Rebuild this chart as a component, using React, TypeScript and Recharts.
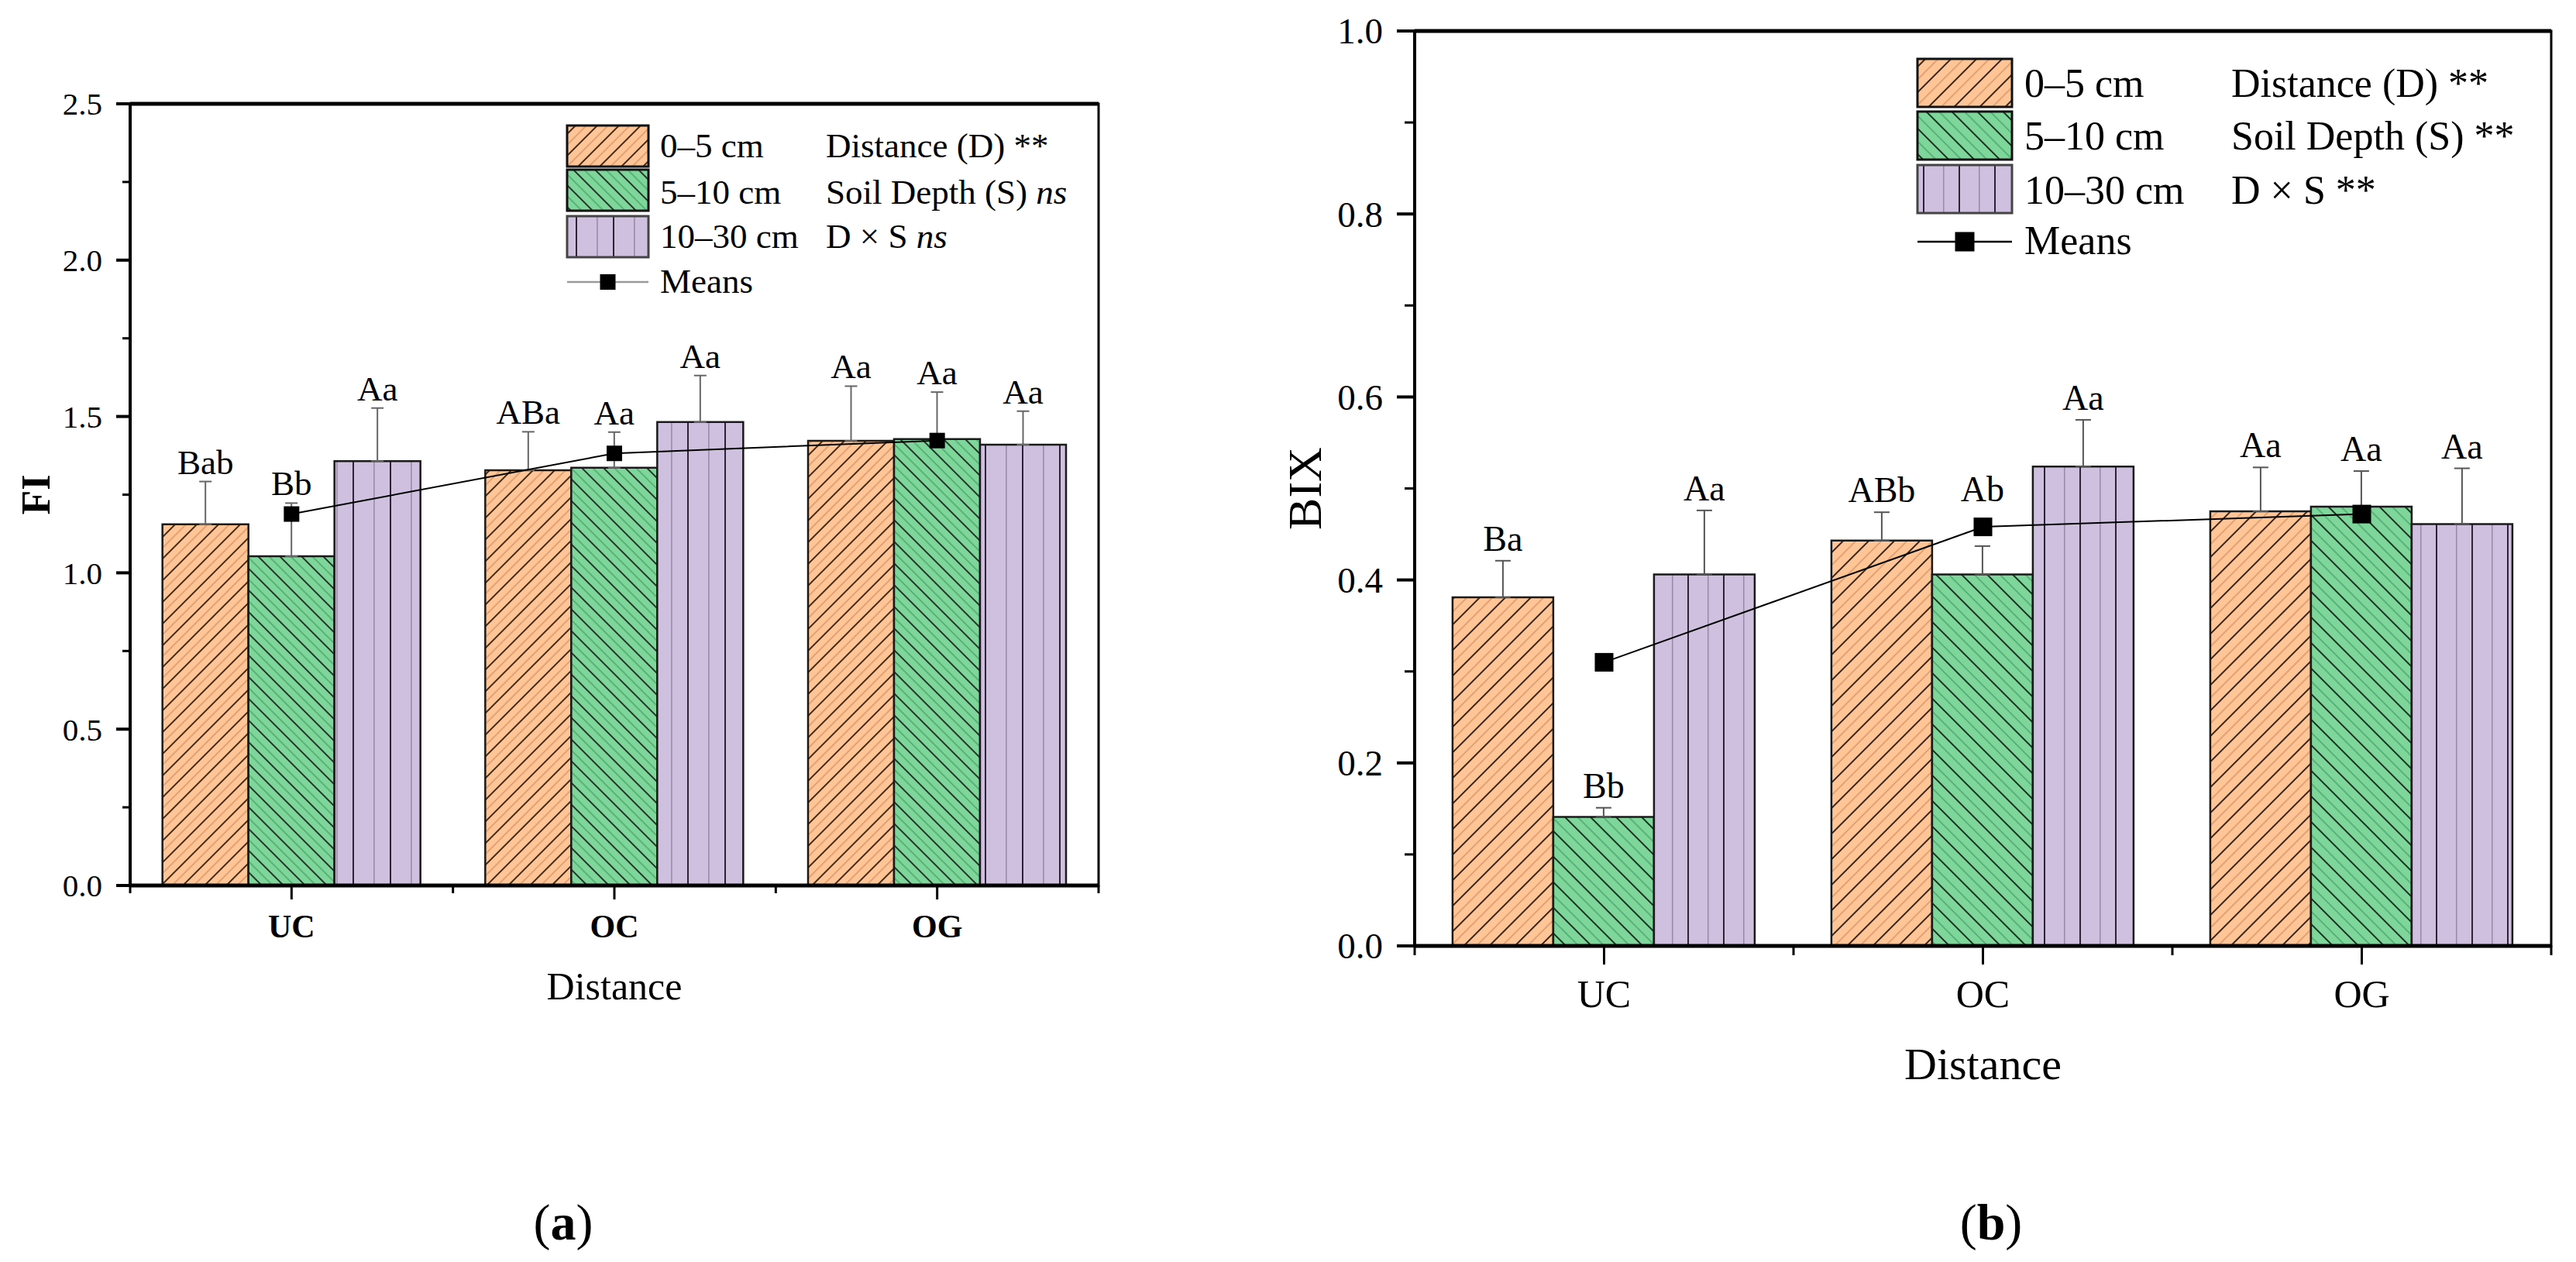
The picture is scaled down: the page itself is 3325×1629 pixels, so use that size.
import React from 'react';
import { ComposedChart, Bar, Line, XAxis, YAxis, ErrorBar, Legend, ReferenceArea, ReferenceLine } from 'recharts';

const FONT = '"Liberation Serif", "Times New Roman", "DejaVu Serif", serif';

// ---------- data ----------
const categories = ['UC', 'OC', 'OG'];
const depthNames = ['0–5 cm', '5–10 cm', '10–30 cm'];
const meansName = 'Means';
const statLabels = ['Distance (D) ', 'Soil Depth (S) ', 'D × S '];

// Panel (a): FI
const fi0to5 = [1.155, 1.328, 1.422];
const fi5to10 = [1.053, 1.336, 1.428];
const fi10to30 = [1.357, 1.482, 1.41];
const fiErr0to5 = [0.137, 0.123, 0.175];
const fiErr5to10 = [0.17, 0.114, 0.15];
const fiErr10to30 = [0.17, 0.149, 0.107];
const fiMeans = [1.188, 1.382, 1.423];
const fiLetters0to5 = ['Bab', 'ABa', 'Aa'];
const fiLetters5to10 = ['Bb', 'Aa', 'Aa'];
const fiLetters10to30 = ['Aa', 'Aa', 'Aa'];
const fiTicks = [0, 0.25, 0.5, 0.75, 1, 1.25, 1.5, 1.75, 2, 2.25, 2.5];
const fiStatSig = ['**', 'ns', 'ns'];

// Panel (b): BIX
const bix0to5 = [0.381, 0.443, 0.475];
const bix5to10 = [0.141, 0.406, 0.48];
const bix10to30 = [0.406, 0.524, 0.461];
const bixErr0to5 = [0.04, 0.031, 0.048];
const bixErr5to10 = [0.01, 0.031, 0.039];
const bixErr10to30 = [0.07, 0.051, 0.061];
const bixMeans = [0.31, 0.458, 0.472];
const bixLetters0to5 = ['Ba', 'ABb', 'Aa'];
const bixLetters5to10 = ['Bb', 'Ab', 'Aa'];
const bixLetters10to30 = ['Aa', 'Aa', 'Aa'];
const bixTicks = [0, 0.1, 0.2, 0.3, 0.4, 0.5, 0.6, 0.7, 0.8, 0.9, 1.0];
const bixStatSig = ['**', '**', '**'];

function buildRows(v0: number[], v1: number[], v2: number[], e0: number[], e1: number[], e2: number[], m: number[]) {
  return categories.map((cat, i) => ({
    cat,
    d0: v0[i],
    d1: v1[i],
    d2: v2[i],
    e0: [0, e0[i]],
    e1: [0, e1[i]],
    e2: [0, e2[i]],
    mean: m[i],
  }));
}

const ORANGE = '#FFC596';
const GREEN = '#7ED69A';
const PURPLE = '#D0C0E0';

// ---------- patterns ----------
function Hatch({ id, fill, dark, light, spacing, angle }: any) {
  const p = spacing / Math.SQRT2;
  return (
    <pattern id={id} patternUnits="userSpaceOnUse" width={p} height={p} patternTransform={`rotate(${angle})`}>
      <rect x={0} y={0} width={p} height={p} fill={fill} />
      <line x1={p * 0.25} y1={-1} x2={p * 0.25} y2={p + 1} stroke={dark} strokeWidth={1.7} />
      <line x1={p * 0.75} y1={-1} x2={p * 0.75} y2={p + 1} stroke={light} strokeWidth={1.2} />
    </pattern>
  );
}
function VLines({ id, period }: any) {
  return (
    <pattern id={id} patternUnits="userSpaceOnUse" width={period} height={20}>
      <rect x={0} y={0} width={period} height={20} fill={PURPLE} />
      <line x1={period * 0.5} y1={-1} x2={period * 0.5} y2={21} stroke="#2e2236" strokeWidth={2} />
      <line x1={period * 0.06} y1={-1} x2={period * 0.06} y2={21} stroke="#9a8ca8" strokeWidth={1.6} />
    </pattern>
  );
}

// ---------- configs ----------
const cfgA = {
  key: 'a',
  left: 0,
  width: 1500,
  height: 1629,
  margin: { top: 134, right: 82, left: 0, bottom: 366 },
  yAxisWidth: 168,
  xAxisHeight: 120,
  plot: { left: 168, right: 1418, top: 134, bottom: 1143 },
  rows: buildRows(fi0to5, fi5to10, fi10to30, fiErr0to5, fiErr5to10, fiErr10to30, fiMeans),
  errs: [fiErr0to5, fiErr5to10, fiErr10to30],
  letters: [fiLetters0to5, fiLetters5to10, fiLetters10to30],
  means: fiMeans,
  domain: [0, 2.5],
  ticks: fiTicks,
  majorStep: 0.5,
  pats: ['pa-o', 'pa-g', 'pa-p'],
  tickFont: 41,
  yLabelGap: 36,
  yMajor: 18,
  yMinor: 10,
  xTickFont: 42,
  xTickBold: true,
  xLabelOffset: 67,
  xMajor: 18,
  xMinor: 10,
  errCap: 8,
  errColor: '#666',
  labelFont: 45,
  labelGap: 10,
  markerSize: 20,
  yTitle: 'FI',
  yTitleX: 46,
  yTitleFont: 52,
  yTitleBold: true,
  xTitleBaseline: 1290,
  xTitleFont: 50,
  statSig: fiStatSig,
  legend: {
    left: 720, top: 150, w: 720, h: 250,
    swX: 12, swW: 105, rowsY: [12, 69, 129], swH: 53,
    textX: 132, baselines: [53, 113, 170, 228],
    meanY: 214, sq: 20, statX: 346, font: 45, meanColor: '#9a9a9a',
  },
};

const cfgB = {
  key: 'b',
  left: 1650,
  width: 1675,
  height: 1629,
  margin: { top: 40, right: 32, left: 0, bottom: 288 },
  yAxisWidth: 176,
  xAxisHeight: 120,
  plot: { left: 176, right: 1643, top: 40, bottom: 1221 },
  rows: buildRows(bix0to5, bix5to10, bix10to30, bixErr0to5, bixErr5to10, bixErr10to30, bixMeans),
  errs: [bixErr0to5, bixErr5to10, bixErr10to30],
  letters: [bixLetters0to5, bixLetters5to10, bixLetters10to30],
  means: bixMeans,
  domain: [0, 1],
  ticks: bixTicks,
  majorStep: 0.2,
  pats: ['pb-o', 'pb-g', 'pb-p'],
  tickFont: 47,
  yLabelGap: 41,
  yMajor: 23,
  yMinor: 13,
  xTickFont: 50,
  xTickBold: false,
  xLabelOffset: 79,
  xMajor: 24,
  xMinor: 12,
  errCap: 10,
  errColor: '#555',
  labelFont: 46,
  labelGap: 13,
  markerSize: 24,
  yTitle: 'BIX',
  yTitleX: 34,
  yTitleFont: 62,
  yTitleBold: false,
  xTitleBaseline: 1393,
  xTitleFont: 58,
  statSig: bixStatSig,
  legend: {
    left: 810, top: 60, w: 840, h: 300,
    swX: 15, swW: 122, rowsY: [16, 84, 153], swH: 62,
    textX: 153, baselines: [65, 133, 203, 268],
    meanY: 252, sq: 25, statX: 420, font: 52, meanColor: '#000',
  },
};

// ---------- renderers ----------
function isMajor(v: number, step: number) {
  const r = v / step;
  return Math.abs(r - Math.round(r)) < 1e-6;
}

function YTick(props: any) {
  const { x, y, payload, cfg } = props;
  const v = Number(payload.value);
  const major = isMajor(v, cfg.majorStep);
  const len = major ? cfg.yMajor : cfg.yMinor;
  return (
    <g>
      <line x1={x - len} y1={y} x2={x} y2={y} stroke="#000" strokeWidth={major ? 4 : 3} />
      {major && (
        <text x={x - cfg.yLabelGap} y={y} dy="0.35em" textAnchor="end" fontSize={cfg.tickFont} fontFamily={FONT} fill="#000">
          {v.toFixed(1)}
        </text>
      )}
    </g>
  );
}

function XTick(props: any) {
  const { x, y, payload, index, visibleTicksCount, width, cfg } = props;
  let half = payload && payload.offset > 0 ? payload.offset : 0;
  if (!half && width && visibleTicksCount) half = width / visibleTicksCount / 2;
  return (
    <g>
      <line x1={x} y1={y} x2={x} y2={y + cfg.xMajor} stroke="#000" strokeWidth={3} />
      {half > 0 && <line x1={x - half} y1={y} x2={x - half} y2={y + cfg.xMinor} stroke="#000" strokeWidth={3} />}
      {half > 0 && index === visibleTicksCount - 1 && (
        <line x1={x + half} y1={y} x2={x + half} y2={y + cfg.xMinor} stroke="#000" strokeWidth={3} />
      )}
      <text
        x={x}
        y={y + cfg.xLabelOffset}
        textAnchor="middle"
        fontSize={cfg.xTickFont}
        fontWeight={cfg.xTickBold ? 'bold' : 'normal'}
        fontFamily={FONT}
        fill="#000"
      >
        {payload.value}
      </text>
    </g>
  );
}

function makeLabel(cfg: any, s: number) {
  return (props: any) => {
    const vb = props.viewBox || {};
    const bx = props.x ?? vb.x;
    const by = props.y ?? vb.y;
    const bw = props.width ?? vb.width;
    const bh = props.height ?? vb.height;
    const idx = props.index;
    const value = Number(props.value);
    if (bx == null || !value) return null;
    const ppu = bh / value;
    const bottom = by + bh;
    const errTop = by - cfg.errs[s][idx] * ppu;
    let base = errTop - cfg.labelGap;
    if (s === 1) {
      const meanY = bottom - cfg.means[idx] * ppu;
      const halfM = cfg.markerSize / 2;
      const labelTop = base - cfg.labelFont * 0.7;
      if (meanY + halfM > labelTop && meanY - halfM < base) {
        base = meanY - halfM - cfg.labelGap * 1.6;
      }
    }
    return (
      <text x={bx + bw / 2} y={base} textAnchor="middle" fontSize={cfg.labelFont} fontFamily={FONT} fill="#000">
        {cfg.letters[s][idx]}
      </text>
    );
  };
}

function LegendBox({ cfg }: any) {
  const L = cfg.legend;
  return (
    <svg width={L.w} height={L.h} style={{ overflow: 'visible', display: 'block' }}>
      {depthNames.map((name, i) => (
        <g key={name}>
          <rect
            x={L.swX}
            y={L.rowsY[i]}
            width={L.swW}
            height={L.swH}
            fill={`url(#${cfg.pats[i]})`}
            stroke={i === 2 ? '#444' : '#111'}
            strokeWidth={3}
          />
          <text x={L.textX} y={L.baselines[i]} fontSize={L.font} fontFamily={FONT} fill="#000">
            {name}
          </text>
          <text x={L.statX} y={L.baselines[i]} fontSize={L.font} fontFamily={FONT} fill="#000">
            {statLabels[i]}
            <tspan fontStyle={cfg.statSig[i] === 'ns' ? 'italic' : 'normal'}>{cfg.statSig[i]}</tspan>
          </text>
        </g>
      ))}
      <line x1={L.swX} y1={L.meanY} x2={L.swX + L.swW} y2={L.meanY} stroke={L.meanColor} strokeWidth={2.5} />
      <rect
        x={L.swX + L.swW / 2 - L.sq / 2}
        y={L.meanY - L.sq / 2}
        width={L.sq}
        height={L.sq}
        fill="#000"
      />
      <text x={L.textX} y={L.baselines[3]} fontSize={L.font} fontFamily={FONT} fill="#000">
        {meansName}
      </text>
    </svg>
  );
}

function Panel({ cfg }: any) {
  const P = cfg.plot;
  const L = cfg.legend;
  const dataKeys = ['d0', 'd1', 'd2'];
  const errKeys = ['e0', 'e1', 'e2'];
  const yMax = cfg.domain[1];
  return (
    <div style={{ position: 'absolute', left: cfg.left, top: 0, width: cfg.width, height: cfg.height }}>
      <ComposedChart
        width={cfg.width}
        height={cfg.height}
        data={cfg.rows}
        margin={cfg.margin}
        barCategoryGap="10%"
        barGap={0}
      >
        <XAxis
          xAxisId="cat"
          dataKey="cat"
          type="category"
          height={cfg.xAxisHeight}
          tickSize={0}
          tickMargin={0}
          tickLine={false}
          interval={0}
          axisLine={{ stroke: '#000', strokeWidth: 5 }}
          tick={(p: any) => <XTick {...p} cfg={cfg} />}
          label={() => (
            <text
              x={(P.left + P.right) / 2}
              y={cfg.xTitleBaseline}
              textAnchor="middle"
              fontSize={cfg.xTitleFont}
              fontFamily={FONT}
              fill="#000"
            >
              Distance
            </text>
          )}
        />
        <YAxis
          yAxisId="val"
          type="number"
          domain={cfg.domain}
          ticks={cfg.ticks}
          interval={0}
          allowDataOverflow
          width={cfg.yAxisWidth}
          tickSize={0}
          tickMargin={0}
          tickLine={false}
          axisLine={{ stroke: '#000', strokeWidth: 4 }}
          tick={(p: any) => <YTick {...p} cfg={cfg} />}
          label={() => (
            <text
              x={cfg.yTitleX}
              y={(P.top + P.bottom) / 2}
              textAnchor="middle"
              dominantBaseline="central"
              transform={`rotate(-90 ${cfg.yTitleX} ${(P.top + P.bottom) / 2})`}
              fontSize={cfg.yTitleFont}
              fontWeight={cfg.yTitleBold ? 'bold' : 'normal'}
              fontFamily={FONT}
              fill="#000"
            >
              {cfg.yTitle}
            </text>
          )}
        />
        <ReferenceArea
          xAxisId="cat"
          yAxisId="val"
          x1="UC"
          x2="OG"
          y1={0}
          y2={yMax}
          fill="none"
          fillOpacity={0}
          stroke="#000"
          strokeWidth={3}
          ifOverflow="visible"
        />
        <ReferenceLine xAxisId="cat" yAxisId="val" y={yMax} stroke="#000" strokeWidth={5} ifOverflow="visible" />
        <Legend
          layout="vertical"
          align="center"
          verticalAlign="middle"
          width={L.w}
          height={L.h}
          wrapperStyle={{ left: L.left, top: L.top, width: L.w, height: L.h }}
          content={() => <LegendBox cfg={cfg} />}
        />
        {dataKeys.map((k, s) => (
          <Bar
            key={k}
            xAxisId="cat"
            yAxisId="val"
            dataKey={k}
            name={depthNames[s]}
            fill={`url(#${cfg.pats[s]})`}
            stroke="#1a1a1a"
            strokeWidth={2.5}
            isAnimationActive={false}
            label={makeLabel(cfg, s)}
          >
            <ErrorBar
              dataKey={errKeys[s]}
              direction="y"
              width={cfg.errCap}
              stroke={cfg.errColor}
              strokeWidth={2}
              isAnimationActive={false}
            />
          </Bar>
        ))}
        <Line
          xAxisId="cat"
          yAxisId="val"
          dataKey="mean"
          name={meansName}
          stroke="#000"
          strokeWidth={2}
          isAnimationActive={false}
          activeDot={false}
          dot={(p: any) => (
            <rect
              key={`m-${p.index}`}
              x={p.cx - cfg.markerSize / 2}
              y={p.cy - cfg.markerSize / 2}
              width={cfg.markerSize}
              height={cfg.markerSize}
              fill="#000"
            />
          )}
        />
      </ComposedChart>
    </div>
  );
}

export default function App() {
  return (
    <div
      style={{
        position: 'absolute',
        left: 0,
        top: 0,
        width: 3325,
        height: 1629,
        background: '#fff',
        overflow: 'hidden',
        fontFamily: FONT,
      }}
    >
      <svg width={0} height={0} style={{ position: 'absolute', left: 0, top: 0 }}>
        <defs>
          <Hatch id="pa-o" fill={ORANGE} dark="#1a0d05" light="#d08a58" spacing={28} angle={45} />
          <Hatch id="pa-g" fill={GREEN} dark="#0b1a10" light="#3f9a62" spacing={28} angle={-45} />
          <VLines id="pa-p" period={48} />
          <Hatch id="pb-o" fill={ORANGE} dark="#1a0d05" light="#d08a58" spacing={33} angle={45} />
          <Hatch id="pb-g" fill={GREEN} dark="#0b1a10" light="#3f9a62" spacing={33} angle={-45} />
          <VLines id="pb-p" period={46} />
        </defs>
      </svg>
      <Panel cfg={cfgA} />
      <Panel cfg={cfgB} />
      <svg
        width={3325}
        height={1629}
        style={{ position: 'absolute', left: 0, top: 0, pointerEvents: 'none' }}
      >
        <text x={727} y={1600} textAnchor="middle" fontSize={66} fontFamily={FONT} fill="#000">
          (<tspan fontWeight="bold">a</tspan>)
        </text>
        <text x={2570} y={1600} textAnchor="middle" fontSize={66} fontFamily={FONT} fill="#000">
          (<tspan fontWeight="bold">b</tspan>)
        </text>
      </svg>
    </div>
  );
}
